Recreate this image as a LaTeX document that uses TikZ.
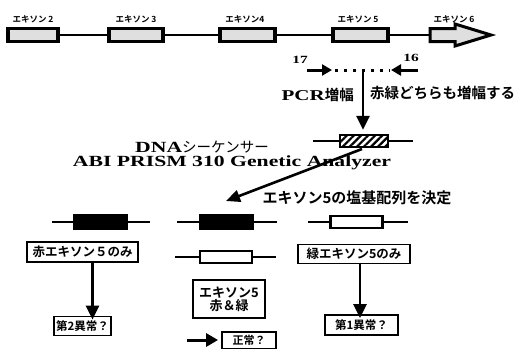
\documentclass[tikz,border=0pt]{standalone}
\usepackage{fontspec}
\usetikzlibrary{arrows.meta,patterns.meta}
\newfontfamily\jp{Noto Sans CJK JP}
\newfontfamily\jpb{Noto Sans CJK JP Bold}
\newfontfamily\lat[FakeStretch=1.4]{Liberation Serif Bold}
\newcommand{\fs}[1]{\fontsize{#1}{#1}\selectfont}
\tikzset{
  exon/.style={draw,line width=3.2pt,fill=gray!25,minimum height=13pt,inner sep=0pt},
  exlab/.style={font=\jpb\fs{8.5},inner sep=0pt},
  mainline/.style={line width=2pt},
  bigarr/.style={line width=2.6pt,-{Triangle[length=14pt,width=13pt]}},
  primarr/.style={line width=3pt,-{Triangle[length=10pt,width=11pt]}},
  blackbar/.style={draw,fill=black,line width=1pt,minimum width=54pt,minimum height=15pt,inner sep=0pt},
  whitebar/.style={draw,fill=white,line width=2.2pt,minimum width=52pt,minimum height=12pt,inner sep=0pt},
  barline/.style={line width=2pt},
  tbox/.style={draw,line width=1.8pt,fill=white,inner sep=2pt,font=\jpb\fs{12.5},align=center},
  numlab/.style={font=\lat\fs{11},inner sep=0pt},
}
\begin{document}
\begin{tikzpicture}[x=1pt,y=-1pt]
\useasboundingbox (0,0) rectangle (518,348);
% ---- top gene ----
\node[exon,minimum width=50pt] (e2) at (33,35) {};
\node[exon,minimum width=54pt] (e3) at (136,35) {};
\node[exon,minimum width=55pt] (e4) at (247.5,35) {};
\node[exon,minimum width=55pt] (e5) at (360.5,35) {};
\coordinate (e6) at (430,35);
\draw[mainline] (e2.east) -- (e3.west) (e3.east) -- (e4.west)
  (e4.east) -- (e5.west) (e5.east) -- (e6);
\draw[line width=3pt,fill=gray!25,line join=miter]
  (430,28.5) -- (455,28.5) -- (455,24) -- (491,35) -- (455,46) -- (455,41.5) -- (430,41.5) -- cycle;
\node[exlab] (l2) at (33,19) {エキソン 2};
\node[exlab] (l3) at (136,19) {エキソン 3};
\node[exlab] (l4) at (245,19) {エキソン4};
\node[exlab] (l5) at (358,19) {エキソン 5};
\node[exlab] (l6) at (454,19) {エキソン 6};
% ---- primers ----
\node[numlab] (n17) at (300,60) {17};
\node[numlab] (n16) at (411,58) {16};
\coordinate (p1s) at (307,70); \coordinate (p1e) at (332,70);
\coordinate (p2s) at (418,70); \coordinate (p2e) at (391,70);
\draw[primarr] (p1s) -- (p1e);
\draw[primarr] (p2s) -- (p2e);
\draw[line width=3pt,dash pattern=on 3pt off 6pt] (335,70) -- (390,70);
% ---- PCR ----
\coordinate (v1) at (363,71);
\node[inner sep=0pt] (h) at (364,141) [draw,line width=2.5pt,minimum width=48pt,minimum height=12pt,
  pattern={Lines[angle=45,distance=5pt,line width=2.2pt]}] {};
\draw[bigarr] (v1) -- ([xshift=-1pt,yshift=4pt]h.north);
\node[inner sep=0pt,anchor=east] (pcr) at (354,95) {{\lat\fs{15}PCR}{\jpb\fs{14.5}増幅}};
\node[inner sep=0pt,anchor=west] (amp) at (370,93) {\jpb\fs{14.5}赤緑どちらも増幅する};
\coordinate (hl) at (313,141); \coordinate (hr) at (413,141);
\draw[barline] (hl) -- (h.west) (h.east) -- (hr);
% ---- sequencer ----
\node[inner sep=0pt] (dna) at (202,147) {{\lat\fs{15.5}DNA}{\jp\fs{14.5}シーケンサー}};
\node[inner sep=0pt] (abi) at (232,163) {\lat\fs{15.5}ABI PRISM 310 Genetic Analyzer};
\coordinate (ds) at (362,149); \coordinate (de) at (226,201);
\draw[line width=2.6pt,-{Triangle[length=14pt,width=12pt]}] (ds) -- (de);
\node[inner sep=0pt] (seq) at (357,198) {\jpb\fs{15}エキソン5の塩基配列を決定};
% ---- result bars ----
\node[blackbar] (b1) at (100.5,222) {};
\coordinate (b1l) at (52,222); \coordinate (b1r) at (150,222);
\draw[barline] (b1l) -- (b1.west) (b1.east) -- (b1r);
\node[blackbar] (b2) at (226,222) {};
\coordinate (b2l) at (177,222); \coordinate (b2r) at (277,222);
\draw[barline] (b2l) -- (b2.west) (b2.east) -- (b2r);
\node[whitebar] (b3) at (356.5,222) {};
\coordinate (b3l) at (308,222); \coordinate (b3r) at (408,222);
\draw[barline] (b3l) -- (b3.west) (b3.east) -- (b3r);
\node[whitebar] (b4) at (226,257) {};
\coordinate (b4l) at (175,257); \coordinate (b4r) at (276,257);
\draw[barline] (b4l) -- (b4.west) (b4.east) -- (b4r);
% ---- result boxes ----
\node[tbox,minimum width=111pt,minimum height=20pt] (red) at (82.5,252) {赤エキソン５のみ};
\node[tbox,minimum width=55pt,minimum height=19pt,font=\jpb\fs{11.5}] (ab2) at (82.5,326) {第2異常？};
\draw[bigarr] ([xshift=10pt]red.south) -- ([xshift=10pt,yshift=-4pt]ab2.north);
\node[tbox,minimum width=112pt,minimum height=19pt] (grn) at (354,254) {緑エキソン5のみ};
\node[tbox,minimum width=73pt,minimum height=20pt,font=\jpb\fs{11.5}] (ab1) at (361.5,325) {第1異常？};
\draw[bigarr] ([xshift=6pt]grn.south) -- ([xshift=6pt,yshift=-4pt]grn.south |- ab1.north);
\node[tbox,minimum width=72pt,minimum height=38pt,font=\jpb\fs{13}] (both) at (229,299) {エキソン5\\赤＆緑};
\node[tbox,minimum width=54pt,minimum height=17pt,inner sep=1pt,font=\jpb\fs{11}] (norm) at (249,340.5) {正常？};
\coordinate (na) at (187,340);
\draw[line width=3pt,-{Triangle[length=12pt,width=13pt]}] (na) -- ([xshift=-3pt]norm.west |- na);
\end{tikzpicture}
\end{document}
